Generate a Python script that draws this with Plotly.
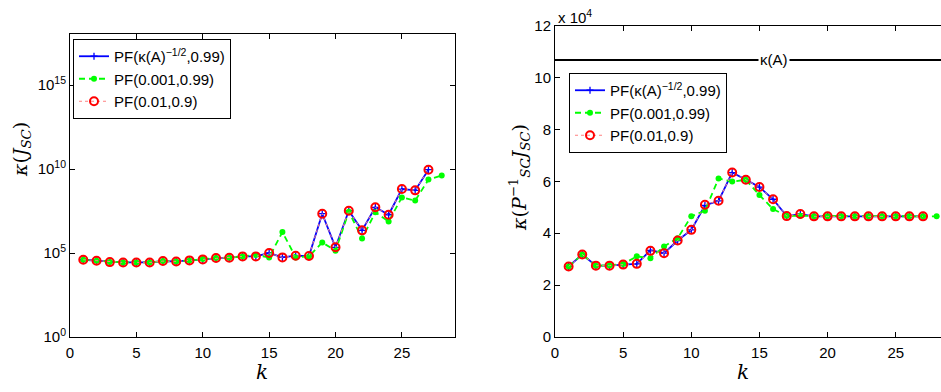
import plotly.graph_objects as go

# ---------------- data ----------------
k_left_pf1 = list(range(1, 28))
log_left_pf1 = [4.60, 4.54, 4.46, 4.44, 4.44, 4.44, 4.52, 4.50, 4.56, 4.62,
                4.70, 4.72, 4.80, 4.80, 5.00, 4.74, 4.84, 4.82, 7.34, 5.34,
                7.52, 6.35, 7.72, 7.28, 8.81, 8.73, 9.96]
k_left_pf2 = list(range(1, 29))
log_left_pf2 = [4.60, 4.54, 4.46, 4.44, 4.44, 4.44, 4.52, 4.50, 4.56, 4.64,
                4.70, 4.72, 4.80, 4.88, 4.74, 6.25, 4.74, 4.80, 5.63, 5.14,
                7.46, 5.87, 7.42, 6.88, 8.31, 8.12, 9.37, 9.62]
k_left_pf3 = list(range(1, 28))
log_left_pf3 = list(log_left_pf1)

k_right_pf1 = list(range(1, 28))
right_pf1 = [2.72, 3.18, 2.75, 2.75, 2.79, 2.82, 3.34, 3.23, 3.72, 4.13,
             5.07, 5.25, 6.34, 6.06, 5.78, 5.31, 4.66, 4.74, 4.65, 4.65,
             4.65, 4.65, 4.65, 4.65, 4.65, 4.65, 4.65]
k_right_pf2 = list(range(1, 29))
right_pf2 = [2.72, 3.18, 2.75, 2.76, 2.81, 3.11, 3.04, 3.49, 3.81, 4.65,
             4.87, 6.11, 5.99, 6.06, 5.47, 4.93, 4.67, 4.67, 4.65, 4.65,
             4.65, 4.65, 4.65, 4.65, 4.65, 4.65, 4.65, 4.65]
k_right_pf3 = list(range(1, 28))
right_pf3 = [2.72, 3.18, 2.75, 2.75, 2.79, 2.82, 3.32, 3.23, 3.72, 4.13,
             5.10, 5.25, 6.34, 6.06, 5.78, 5.31, 4.66, 4.74, 4.65, 4.65,
             4.65, 4.65, 4.65, 4.65, 4.65, 4.65, 4.65]
KAPPA_A = 10.68  # x 10^4

names = ["PF(κ(A)<sup>−1/2</sup>,0.99)", "PF(0.001,0.99)", "PF(0.01,0.9)"]
left_ticks = [1, 1e5, 1e10, 1e15]
left_ticktext = ["10<sup>0</sup>", "10<sup>5</sup>", "10<sup>10</sup>", "10<sup>15</sup>"]
right_ticks = [0, 2, 4, 6, 8, 10, 12]
x_ticks = [0, 5, 10, 15, 20, 25]

W, H = 941, 392
FONT = "Liberation Sans, Arial, sans-serif"
SERIF = "DejaVu Serif, Liberation Serif, serif"
FS = 15

styles = [
    dict(line=dict(color="#0000ff", width=1.8, dash="solid"),
         marker=dict(symbol="cross-thin", size=5, color="#0000ff",
                     line=dict(color="#0000ff", width=1.3))),
    dict(line=dict(color="#00ff00", width=1.8, dash="6px,4px"),
         marker=dict(symbol="circle", size=6, color="#00ff00")),
    dict(line=dict(color="#ff8080", width=1, dash="dot"),
         marker=dict(symbol="circle-open", size=8, color="#ff0000",
                     line=dict(color="#ff0000", width=2))),
]

fig = go.Figure()
left_x = [k_left_pf1, k_left_pf2, k_left_pf3]
left_y = [[10 ** v for v in log_left_pf1], [10 ** v for v in log_left_pf2],
          [10 ** v for v in log_left_pf3]]
for i in range(3):
    fig.add_trace(go.Scatter(x=left_x[i], y=left_y[i], mode="lines+markers",
                             name=names[i], xaxis="x", yaxis="y",
                             legend="legend", **styles[i]))

right_x = [k_right_pf1, k_right_pf2, k_right_pf3]
right_y = [right_pf1, right_pf2, right_pf3]
for i in range(3):
    fig.add_trace(go.Scatter(x=right_x[i], y=right_y[i], mode="lines+markers",
                             name=names[i], xaxis="x2", yaxis="y2",
                             legend="legend2", **styles[i]))

fig.add_trace(go.Scatter(x=[0, 29], y=[KAPPA_A, KAPPA_A], mode="lines",
                         line=dict(color="black", width=2), showlegend=False,
                         xaxis="x2", yaxis="y2", hoverinfo="skip"))

axis_common = dict(showline=True, linecolor="black", linewidth=1,
                   ticks="inside", ticklen=5, tickcolor="black",
                   showgrid=False, zeroline=False, automargin=False,
                   tickfont=dict(family=FONT, size=FS, color="black"))

fig.update_layout(
    width=W, height=H,
    margin=dict(l=0, r=0, t=0, b=0, autoexpand=False),
    paper_bgcolor="white", plot_bgcolor="white",
    xaxis=dict(domain=[70 / W, 455 / W], range=[0, 29], tickvals=x_ticks,
               mirror="ticks", anchor="y", ticklabelstandoff=2, **axis_common),
    yaxis=dict(domain=[1 - 337 / H, 1 - 34 / H], type="log", range=[0, 18.04],
               tickvals=left_ticks, ticktext=left_ticktext, mirror="ticks",
               anchor="x", **axis_common),
    xaxis2=dict(domain=[555 / W, 1.0], range=[0, 28.32], tickvals=x_ticks,
                mirror="ticks", anchor="y2", ticklabelstandoff=2, **axis_common),
    yaxis2=dict(domain=[1 - 337 / H, 1 - 25.7 / H], range=[0, 12],
                tickvals=right_ticks, mirror=False, anchor="x2", **axis_common),
    legend=dict(x=73 / W, y=1 - 39 / H, xanchor="left", yanchor="top",
                bgcolor="white", bordercolor="black", borderwidth=1,
                font=dict(family=FONT, size=FS, color="black"),
                tracegroupgap=0, itemwidth=30),
    legend2=dict(x=569 / W, y=1 - 73 / H, xanchor="left", yanchor="top",
                 bgcolor="white", bordercolor="black", borderwidth=1,
                 font=dict(family=FONT, size=FS, color="black"),
                 tracegroupgap=0, itemwidth=30),
    showlegend=True,
)

annotations = [
    dict(text="<i>k</i>", x=262 / W, y=1 - 372 / H, xref="paper", yref="paper",
         xanchor="center", yanchor="middle", showarrow=False,
         font=dict(family=SERIF, size=20, color="black")),
    dict(text="<i>k</i>", x=743 / W, y=1 - 372 / H, xref="paper", yref="paper",
         xanchor="center", yanchor="middle", showarrow=False,
         font=dict(family=SERIF, size=20, color="black")),
    dict(text="<i>κ</i>(<i>J</i><sub><i>SC</i></sub>)", x=21 / W, y=1 - 150 / H,
         xref="paper", yref="paper", xanchor="center", yanchor="middle",
         showarrow=False, textangle=-90,
         font=dict(family=SERIF, size=19, color="black")),
    dict(text="<i>κ</i>(<i>P</i><sup>−1</sup><sub><i>SC</i></sub><i>J</i><sub><i>SC</i></sub>)",
         x=519 / W, y=1 - 178 / H, xref="paper", yref="paper",
         xanchor="center", yanchor="middle", showarrow=False, textangle=-90,
         font=dict(family=SERIF, size=19, color="black")),
    dict(text="x 10<sup>4</sup>", x=556 / W, y=1 - 16 / H, xref="paper", yref="paper",
         xanchor="left", yanchor="middle", showarrow=False,
         font=dict(family=FONT, size=FS, color="black")),
    dict(text="κ(A)", x=16.1, y=KAPPA_A, xref="x2", yref="y2", showarrow=False,
         xanchor="center", yanchor="middle", bgcolor="white",
         font=dict(family=FONT, size=FS, color="black")),
]
fig.update_layout(annotations=annotations)

fig.write_html("out.html", config={"displayModeBar": False},
               post_script="document.body.style.margin='0';document.body.style.overflow='hidden';")
